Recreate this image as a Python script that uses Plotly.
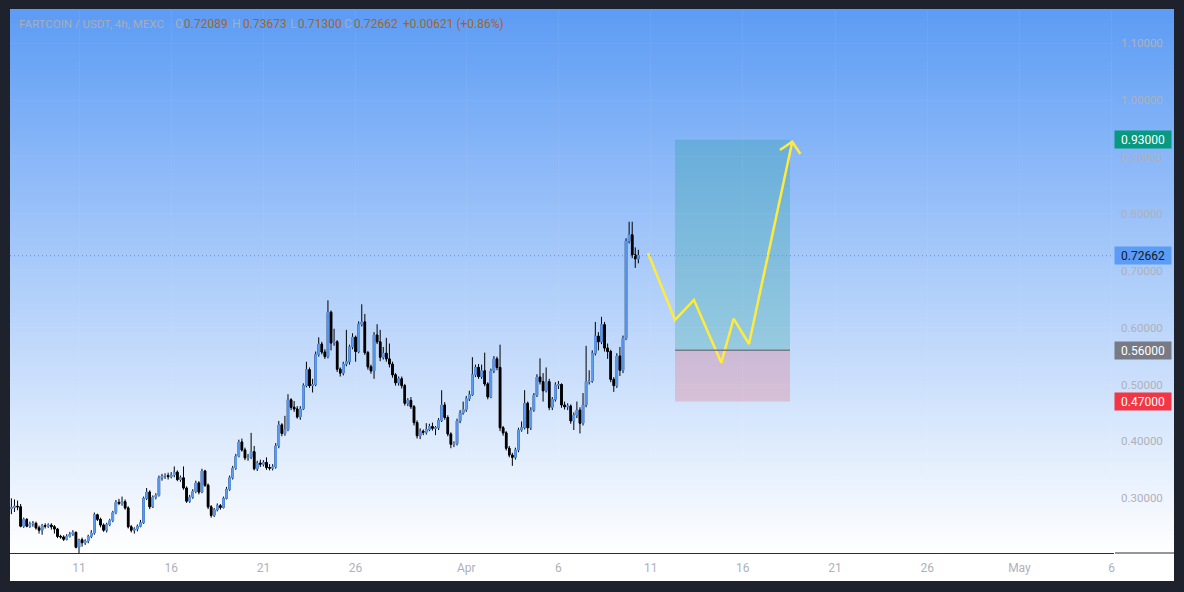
import plotly.graph_objects as go
import pandas as pd

# ---------------- data ----------------
first_open = 0.282
closes = [
    0.284, 0.286, 0.285, 0.251, 0.263, 0.251, 0.255, 0.256, 0.248, 0.244,
    0.252, 0.251, 0.253, 0.250, 0.246, 0.233, 0.232, 0.228, 0.233, 0.237,
    0.240, 0.214, 0.227, 0.222, 0.225, 0.233, 0.239, 0.271, 0.263, 0.253,
    0.244, 0.254, 0.261, 0.275, 0.293, 0.291, 0.294, 0.283, 0.250, 0.244,
    0.246, 0.251, 0.257, 0.300, 0.311, 0.285, 0.302, 0.305, 0.336, 0.339,
    0.340, 0.338, 0.341, 0.346, 0.333, 0.336, 0.318, 0.295, 0.302, 0.312,
    0.327, 0.311, 0.348, 0.323, 0.285, 0.270, 0.280, 0.287, 0.284, 0.300,
    0.316, 0.336, 0.353, 0.374, 0.399, 0.385, 0.371, 0.372, 0.382, 0.352,
    0.362, 0.360, 0.363, 0.354, 0.353, 0.355, 0.392,
    0.429, 0.414, 0.421, 0.473, 0.460, 0.457, 0.443, 0.457, 0.498, 0.526,
    0.498, 0.500, 0.553, 0.571, 0.557, 0.549, 0.627,
    0.573, 0.575, 0.527, 0.520, 0.536, 0.540, 0.566, 0.583, 0.558, 0.606,
    0.610, 0.556, 0.531, 0.524, 0.587, 0.575, 0.548, 0.555, 0.545, 0.536,
    0.517, 0.503, 0.510, 0.498, 0.467, 0.472, 0.461, 0.433, 0.410, 0.418,
    0.416, 0.421, 0.426, 0.423, 0.424, 0.437, 0.464, 0.442, 0.413, 0.395,
    0.396, 0.436, 0.450, 0.456, 0.475, 0.482, 0.517, 0.530, 0.514,
    0.524, 0.501, 0.478, 0.524, 0.545, 0.530, 0.424, 0.415, 0.388, 0.376,
    0.372, 0.385, 0.420, 0.424, 0.467, 0.424, 0.455, 0.481, 0.513, 0.505,
    0.489, 0.505, 0.460, 0.474, 0.499, 0.500, 0.464, 0.461, 0.462, 0.436,
    0.446, 0.455, 0.432, 0.464, 0.505, 0.506, 0.555, 0.585, 0.575, 0.605,
    0.564, 0.558, 0.509, 0.498, 0.550, 0.525, 0.581, 0.752, 0.763, 0.728,
    0.72089, 0.72662,
]
highs = [
    0.300, 0.298, 0.296, 0.290, 0.266, 0.265, 0.259, 0.260, 0.259, 0.252,
    0.255, 0.256, 0.256, 0.256, 0.253, 0.248, 0.236, 0.235, 0.237, 0.241,
    0.244, 0.242, 0.229, 0.231, 0.228, 0.236, 0.244, 0.275, 0.273, 0.266,
    0.256, 0.257, 0.264, 0.278, 0.297, 0.299, 0.303, 0.298, 0.286, 0.253,
    0.249, 0.254, 0.262, 0.303, 0.318, 0.314, 0.305, 0.309, 0.340, 0.343,
    0.344, 0.345, 0.346, 0.356, 0.349, 0.340, 0.356, 0.321, 0.306, 0.316,
    0.331, 0.330, 0.352, 0.350, 0.326, 0.288, 0.283, 0.291, 0.290, 0.303,
    0.320, 0.340, 0.357, 0.378, 0.403, 0.405, 0.389, 0.378, 0.415, 0.392,
    0.366, 0.368, 0.367, 0.372, 0.360, 0.360, 0.397,
    0.436, 0.432, 0.445, 0.483, 0.476, 0.471, 0.462, 0.462, 0.502, 0.540,
    0.530, 0.510, 0.558, 0.583, 0.575, 0.562, 0.648,
    0.630, 0.598, 0.578, 0.530, 0.540, 0.596, 0.570, 0.590, 0.586, 0.611,
    0.641, 0.624, 0.559, 0.535, 0.592, 0.606, 0.596, 0.566, 0.582, 0.572,
    0.540, 0.520, 0.514, 0.514, 0.501, 0.476, 0.478, 0.464, 0.437, 0.423,
    0.421, 0.432, 0.431, 0.433, 0.427, 0.441, 0.490, 0.469, 0.446, 0.416,
    0.400, 0.440, 0.455, 0.470, 0.480, 0.489, 0.548, 0.535, 0.536,
    0.535, 0.556, 0.504, 0.528, 0.550, 0.549, 0.570, 0.427, 0.418, 0.392,
    0.380, 0.389, 0.424, 0.435, 0.490, 0.470, 0.460, 0.485, 0.518, 0.546,
    0.520, 0.530, 0.510, 0.478, 0.504, 0.506, 0.502, 0.470, 0.467, 0.465,
    0.451, 0.470, 0.460, 0.485, 0.568, 0.525, 0.560, 0.610, 0.592, 0.619,
    0.610, 0.572, 0.561, 0.513, 0.555, 0.566, 0.586, 0.757, 0.786, 0.786,
    0.741, 0.73673,
]
lows = [
    0.272, 0.276, 0.279, 0.249, 0.248, 0.249, 0.248, 0.250, 0.245, 0.238,
    0.236, 0.247, 0.248, 0.245, 0.238, 0.230, 0.229, 0.225, 0.226, 0.231,
    0.234, 0.212, 0.203, 0.215, 0.218, 0.221, 0.230, 0.236, 0.260, 0.249,
    0.241, 0.240, 0.251, 0.258, 0.272, 0.288, 0.287, 0.280, 0.247, 0.240,
    0.238, 0.242, 0.249, 0.255, 0.297, 0.281, 0.283, 0.298, 0.303, 0.331,
    0.334, 0.333, 0.335, 0.337, 0.330, 0.329, 0.315, 0.292, 0.292, 0.299,
    0.309, 0.307, 0.309, 0.320, 0.281, 0.266, 0.267, 0.277, 0.280, 0.282,
    0.298, 0.313, 0.333, 0.350, 0.372, 0.382, 0.367, 0.366, 0.369, 0.349,
    0.348, 0.355, 0.356, 0.350, 0.349, 0.349, 0.352,
    0.388, 0.409, 0.410, 0.418, 0.455, 0.452, 0.440, 0.438, 0.455, 0.495,
    0.494, 0.486, 0.497, 0.549, 0.553, 0.545, 0.546,
    0.560, 0.568, 0.522, 0.514, 0.516, 0.532, 0.535, 0.562, 0.540, 0.555,
    0.602, 0.552, 0.526, 0.519, 0.510, 0.571, 0.541, 0.544, 0.540, 0.530,
    0.512, 0.498, 0.498, 0.493, 0.463, 0.462, 0.457, 0.428, 0.405, 0.404,
    0.411, 0.412, 0.418, 0.419, 0.411, 0.420, 0.434, 0.438, 0.409, 0.388,
    0.390, 0.393, 0.432, 0.447, 0.452, 0.471, 0.480, 0.513, 0.510,
    0.510, 0.497, 0.474, 0.476, 0.520, 0.525, 0.418, 0.410, 0.384, 0.372,
    0.357, 0.368, 0.381, 0.417, 0.421, 0.413, 0.420, 0.452, 0.478, 0.500,
    0.470, 0.486, 0.455, 0.455, 0.470, 0.492, 0.459, 0.456, 0.455, 0.431,
    0.420, 0.441, 0.414, 0.428, 0.460, 0.500, 0.503, 0.551, 0.560, 0.571,
    0.558, 0.545, 0.504, 0.487, 0.494, 0.515, 0.520, 0.578, 0.748, 0.722,
    0.705, 0.713,
]
opens = [first_open] + closes[:-1]
first_bar = "2025-03-07 08:00"
times = pd.date_range(first_bar, periods=len(closes), freq="4h")

price_ticks = [0.3, 0.4, 0.5, 0.6, 0.7, 0.8, 0.9, 1.0, 1.1]
date_ticks = ["2025-03-11", "2025-03-16", "2025-03-21", "2025-03-26", "2025-04-01",
              "2025-04-06", "2025-04-11", "2025-04-16", "2025-04-21", "2025-04-26",
              "2025-05-01", "2025-05-06"]
date_labels = ["11", "16", "21", "26", "Apr", "6", "11", "16", "21", "26", "May", "6"]

last_price = 0.72662
take_profit = 0.93
entry = 0.56
stop = 0.47
pos_start = "2025-04-12 07:45"
pos_end = "2025-04-18 13:22"

path_t = ["2025-04-10 20:34", "2025-04-12 07:45", "2025-04-13 08:23", "2025-04-14 19:56",
          "2025-04-15 12:00", "2025-04-16 08:00", "2025-04-18 16:19"]
path_p = [0.7311, 0.6134, 0.6485, 0.5383, 0.6156, 0.5712, 0.9267]
arrow_t = ["2025-04-18 00:15", "2025-04-18 16:19", "2025-04-19 02:52"]
arrow_p = [0.9121, 0.9267, 0.9051]

header_parts = ["FARTCOIN / USDT, 4h, MEXC", "O", "0.72089", "H", "0.73673", "L", "0.71300",
                "C", "0.72662", "+0.00621 (+0.86%)"]

# ---------------- styling ----------------
UP = "#5b9cf6"
DOWN = "#000000"
FONT = "Roboto"
AXIS_TXT = "#aeb1ba"
GRID = "rgba(255,255,255,0.05)"

fig = go.Figure()

# wicks (black) for every bar
fig.add_trace(go.Candlestick(
    x=times, open=opens, high=highs, low=lows, close=closes,
    increasing=dict(line=dict(color=DOWN, width=1), fillcolor=DOWN),
    decreasing=dict(line=dict(color=DOWN, width=1), fillcolor=DOWN),
    showlegend=False, hoverinfo="skip"))
# bodies coloured
body_hi = [max(o, c) for o, c in zip(opens, closes)]
body_lo = [min(o, c) for o, c in zip(opens, closes)]
fig.add_trace(go.Candlestick(
    x=times, open=opens, high=body_hi, low=body_lo, close=closes,
    increasing=dict(line=dict(color=UP, width=1), fillcolor=UP),
    decreasing=dict(line=dict(color=DOWN, width=1), fillcolor=DOWN),
    showlegend=False, hoverinfo="skip"))

# projected path
fig.add_trace(go.Scatter(x=path_t, y=path_p, mode="lines",
                         line=dict(color="#ffeb3b", width=2.5), showlegend=False, hoverinfo="skip"))
fig.add_trace(go.Scatter(x=arrow_t, y=arrow_p, mode="lines",
                         line=dict(color="#ffeb3b", width=2.5), showlegend=False, hoverinfo="skip"))

shapes = []
# background gradient (pane + price scale)
N = 120
top = (93, 156, 245)
bot = (255, 255, 255)
XR = (1174 - 10) / 1104
for i in range(N):
    f = (i + 0.5) / N
    col = tuple(int(round(bot[k] + (top[k] - bot[k]) * f)) for k in range(3))
    shapes.append(dict(type="rect", xref="paper", yref="paper", x0=0, x1=XR,
                       y0=i / N, y1=(i + 1) / N + 0.002, layer="below",
                       fillcolor="rgb(%d,%d,%d)" % col, line=dict(width=0)))
# time axis strip
shapes.append(dict(type="rect", xref="paper", yref="paper", x0=0, x1=XR,
                   y0=-28 / 543, y1=0, layer="below", fillcolor="#ffffff", line=dict(width=0)))
# pane bottom separator on price-scale side
shapes.append(dict(type="line", xref="paper", yref="paper", x0=1 + 1 / 1104, x1=XR,
                   y0=0, y1=0, line=dict(color="#2a2e39", width=1)))
# position tool
shapes.append(dict(type="rect", xref="x", yref="y", x0=pos_start, x1=pos_end,
                   y0=entry, y1=take_profit, fillcolor="rgba(8,153,129,0.23)",
                   line=dict(width=0), layer="below"))
shapes.append(dict(type="rect", xref="x", yref="y", x0=pos_start, x1=pos_end,
                   y0=stop, y1=entry, fillcolor="rgba(242,54,69,0.20)",
                   line=dict(width=0), layer="below"))
shapes.append(dict(type="line", xref="x", yref="y", x0=pos_start, x1=pos_end,
                   y0=entry, y1=entry, line=dict(color="#787b86", width=1.5)))
# last price dotted line
shapes.append(dict(type="line", xref="paper", yref="y", x0=0, x1=1,
                   y0=last_price, y1=last_price, line=dict(color=UP, width=1.3, dash="1px,3px")))

annotations = []
for val, bg, fg in [(take_profit, "#089981", "#ffffff"), (last_price, UP, "#131722"),
                    (entry, "#787b86", "#ffffff"), (stop, "#f23645", "#ffffff")]:
    annotations.append(dict(xref="paper", yref="y", x=1.0, y=val, xanchor="left", yanchor="middle",
                            text="%.5f" % val, showarrow=False, bgcolor=bg, width=54, height=15,
                            borderpad=1, font=dict(family=FONT, size=12, color=fg), align="center"))

# header legend, one text piece at a time (left edges in pixels)
GRAY = "#a9adb6"
ORANGE = "#a5651d"
header_x = [18, 174, 183, 231, 242, 289, 297, 343, 353, 402]
header_col = [GRAY, GRAY, ORANGE, GRAY, ORANGE, GRAY, ORANGE, GRAY, ORANGE, ORANGE]
header_size = [11.5, 12, 12, 12, 12, 12, 12, 12, 12, 12]
for txt, px, colr, sz in zip(header_parts, header_x, header_col, header_size):
    annotations.append(dict(xref="paper", yref="paper", x=(px - 10) / 1104, y=1 - 14 / 543,
                            xanchor="left", yanchor="middle", text=txt, showarrow=False,
                            borderpad=0, font=dict(family=FONT, size=sz, color=colr)))

fig.update_layout(
    width=1184, height=592,
    margin=dict(l=10, r=70, t=10, b=39),
    paper_bgcolor="#1e222d", plot_bgcolor="rgba(0,0,0,0)",
    shapes=shapes, annotations=annotations,
    font=dict(family=FONT, size=12, color=AXIS_TXT),
    xaxis=dict(type="date", range=["2025-03-07 06:11", "2025-05-06 03:04"],
               tickvals=date_ticks, ticktext=date_labels,
               showgrid=True, gridcolor=GRID, gridwidth=1,
               showline=True, linecolor="#2a2e39", linewidth=1, ticks="",
               zeroline=False, rangeslider=dict(visible=False),
               tickfont=dict(family=FONT, size=12, color=AXIS_TXT), ticklabelstandoff=4),
    yaxis=dict(side="right", range=[0.20387, 1.15817], tickvals=price_ticks, tickformat=".5f",
               showgrid=True, gridcolor=GRID, gridwidth=1,
               zeroline=False, showline=False, ticks="",
               tickfont=dict(family=FONT, size=11.5, color=AXIS_TXT), ticklabelstandoff=6),
    hovermode=False,
)

fig.write_html("out.html", config={"displayModeBar": False},
               post_script="document.body.style.margin='0';")
